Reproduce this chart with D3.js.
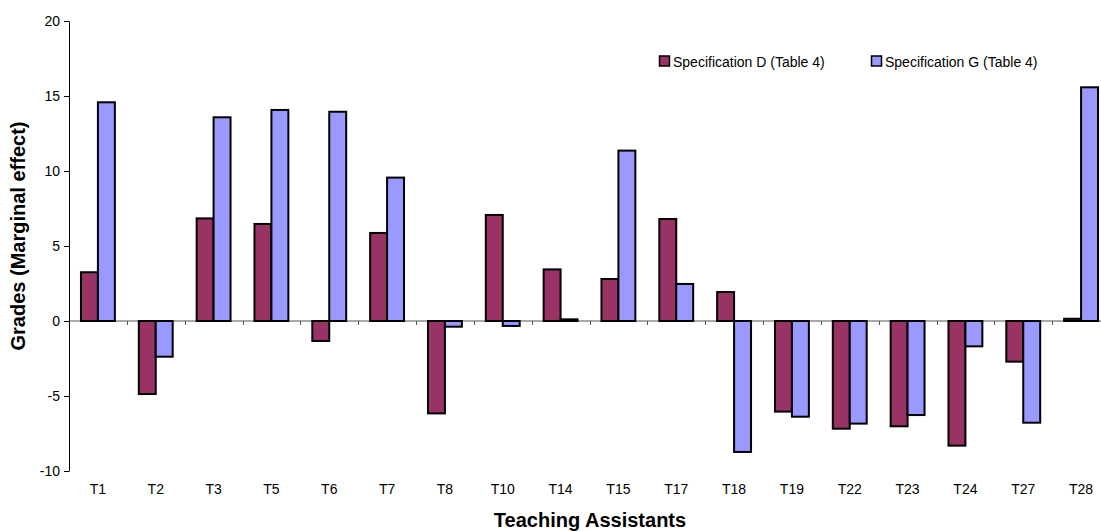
<!DOCTYPE html>
<html><head><meta charset="utf-8">
<script src="https://cdn.jsdelivr.net/npm/d3@7"></script>
<style>
body{margin:0;background:#fff;}
svg{display:block;font-family:"Liberation Sans",Arial,sans-serif;}
</style></head>
<body>
<svg id="chart" width="1101" height="531"></svg>
<script>
const categories = ["T1","T2","T3","T5","T6","T7","T8","T10","T14","T15","T17","T18","T19","T22","T23","T24","T27","T28"];
const seriesNames = ["Specification D (Table 4)","Specification G (Table 4)"];
const specD = [3.25,-4.87,6.84,6.47,-1.33,5.87,-6.16,7.07,3.44,2.8,6.8,1.93,-6.04,-7.18,-7.02,-8.31,-2.71,0.15];
const specG = [14.58,-2.38,13.58,14.07,13.95,9.56,-0.38,-0.33,0.11,11.36,2.47,-8.73,-6.38,-6.84,-6.27,-1.69,-6.78,15.58];
const yTicks = [-10,-5,0,5,10,15,20];
const colors = ["#993366","#9999FF"];

const svg = d3.select("#chart");
const mLeft = 69, mRight = 1110, mTop = 21, mBottom = 471;

const x = d3.scaleBand().domain(categories).range([mLeft, mRight]).padding(0);
const y = d3.scaleLinear().domain([-10, 20]).range([mBottom, mTop]);
const xs = d3.scaleBand().domain(seriesNames)
  .range([x.bandwidth()*0.207, x.bandwidth()*0.793]).padding(0);

const data = categories.map((c,i)=>({cat:c, vals:[specD[i], specG[i]]}));

// zero line with category boundary ticks
const zl = svg.append("g");
zl.append("line").attr("x1",mLeft).attr("x2",mRight).attr("y1",y(0)).attr("y2",y(0))
  .attr("stroke","#555").attr("stroke-width",1);
categories.forEach(c=>{
  zl.append("line").attr("x1",Math.round(x(c))+0.5).attr("x2",Math.round(x(c))+0.5)
    .attr("y1",y(0)).attr("y2",y(0)+4).attr("stroke","#555");
});

// bars
const g = svg.append("g");
data.forEach(d=>{
  d.vals.forEach((v,j)=>{
    g.append("rect")
      .attr("x", x(d.cat) + xs(seriesNames[j]))
      .attr("y", y(Math.max(0,v)))
      .attr("width", xs.bandwidth())
      .attr("height", Math.abs(y(v)-y(0)))
      .attr("fill", colors[j])
      .attr("stroke","#000")
      .attr("stroke-width",2);
  });
});

// y axis
const yAxis = svg.append("g").attr("transform",`translate(${mLeft},0)`)
  .call(d3.axisLeft(y).tickValues(yTicks).tickFormat(d => String(d))
    .tickSize(5).tickSizeOuter(0).tickPadding(4));
yAxis.select(".domain").attr("stroke","#000");
yAxis.selectAll("text").attr("font-size","14px").attr("fill","#000")
  .attr("font-family","'Liberation Sans',Arial,sans-serif");

// category labels
const xAxis = svg.append("g").attr("transform",`translate(0,${mBottom})`)
  .call(d3.axisBottom(x).tickSize(0).tickPadding(13));
xAxis.select(".domain").remove();
xAxis.selectAll("text").attr("font-size","14px").attr("fill","#000")
  .attr("font-family","'Liberation Sans',Arial,sans-serif");

// axis titles
svg.append("text").attr("x",590).attr("y",527).attr("text-anchor","middle")
  .attr("font-size","20px").attr("font-weight","bold").text("Teaching Assistants");
svg.append("text").attr("transform","translate(24.5,236) rotate(-90)").attr("text-anchor","middle")
  .attr("font-size","20px").attr("font-weight","bold").text("Grades (Marginal effect)");

// legend
const legX = [659, 871];
seriesNames.forEach((s,i)=>{
  const lg = svg.append("g").attr("transform",`translate(${legX[i]},56)`);
  lg.append("rect").attr("x",0.5).attr("y",0).attr("width",10).attr("height",10)
    .attr("fill",colors[i]).attr("stroke","#000").attr("stroke-width",1.5);
  lg.append("text").attr("x",14).attr("y",10.5).attr("font-size","14px").attr("fill","#000").text(s);
});
</script>
</body></html>
